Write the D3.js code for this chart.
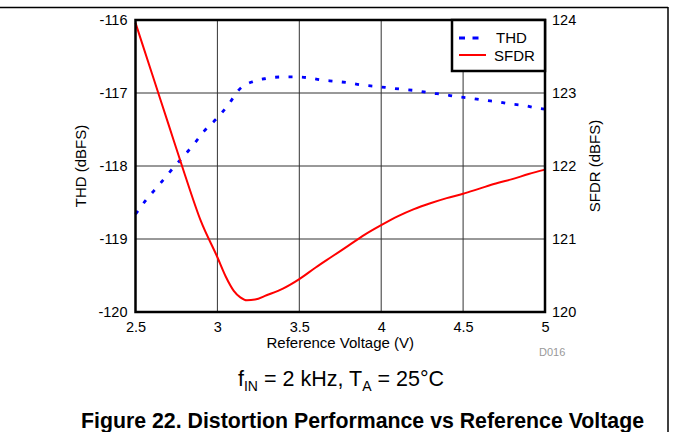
<!DOCTYPE html>
<html><head><meta charset="utf-8">
<script src="https://cdn.jsdelivr.net/npm/d3@7"></script>
<style>body{margin:0;background:#fff}svg{display:block;font-family:"Liberation Sans",Arial,sans-serif}</style>
</head><body>
<svg id="c" width="673" height="432"></svg>
<script>
const xTicks = [2.5, 3, 3.5, 4, 4.5, 5];
const yLeftTicks = [-120, -119, -118, -117, -116];
const yRightTicks = [120, 121, 122, 123, 124];
const thdV = [2.5,2.57,2.64,2.71,2.78,2.85,2.92,3.0,3.07,3.13,3.22,3.30,3.39,3.47,3.55,3.63,3.72,3.80,3.88,3.97,4.05,4.13,4.22,4.30,4.38,4.46,4.54,4.63,4.71,4.79,4.87,4.96,5.0];
const thdVal = [-118.66,-118.45,-118.27,-118.08,-117.90,-117.72,-117.52,-117.34,-117.15,-116.96,-116.84,-116.80,-116.78,-116.78,-116.79,-116.82,-116.84,-116.86,-116.89,-116.91,-116.93,-116.95,-116.97,-117.00,-117.02,-117.05,-117.07,-117.10,-117.12,-117.15,-117.17,-117.21,-117.22];
const sfdrV = [2.5,2.6,2.7,2.8,2.9,3.0,3.05,3.1,3.14,3.18,3.23,3.3,3.4,3.5,3.6,3.7,3.8,3.9,4.0,4.1,4.2,4.3,4.4,4.5,4.6,4.7,4.8,4.9,5.0];
const sfdrVal = [123.96,123.27,122.58,121.89,121.24,120.75,120.49,120.29,120.20,120.16,120.17,120.23,120.32,120.45,120.61,120.76,120.91,121.06,121.19,121.31,121.41,121.49,121.56,121.62,121.69,121.76,121.82,121.89,121.95];

const svg = d3.select("#c");
const L = 135.5, R = 545, T = 20, B = 312;
const x = d3.scaleLinear().domain([2.5, 5]).range([L, R]);
const yL = d3.scaleLinear().domain([-120, -116]).range([B, T]);
const yR = d3.scaleLinear().domain([120, 124]).range([B, T]);

// page frame
svg.append("line").attr("x1",0).attr("x2",668).attr("y1",7.5).attr("y2",7.5).attr("stroke","#000").attr("stroke-width",1.5);
svg.append("line").attr("x1",668).attr("x2",668).attr("y1",7).attr("y2",432).attr("stroke","#000").attr("stroke-width",1.5);

// grid
const g = svg.append("g");
g.selectAll("line.vx").data(xTicks.slice(1,-1)).enter().append("line")
 .attr("x1",d=>x(d)).attr("x2",d=>x(d)).attr("y1",T).attr("y2",B).attr("stroke","#333").attr("stroke-width",1);
g.selectAll("line.hy").data(yLeftTicks.slice(1,-1)).enter().append("line")
 .attr("x1",L).attr("x2",R).attr("y1",d=>yL(d)).attr("y2",d=>yL(d)).attr("stroke","#333").attr("stroke-width",1);

// axes (labels)
const axB = d3.axisBottom(x).tickValues(xTicks).tickSize(0).tickPadding(10).tickFormat(d3.format("~g"));
const axL = d3.axisLeft(yL).tickValues(yLeftTicks).tickSize(0).tickPadding(8).tickFormat(d=>String(d));
const axR = d3.axisRight(yR).tickValues(yRightTicks).tickSize(0).tickPadding(7).tickFormat(d=>String(d));
[[axB,`translate(0,${B})`],[axL,`translate(${L},0)`],[axR,`translate(${R},0)`]].forEach(([a,t])=>{
  const s = svg.append("g").attr("transform",t).call(a);
  s.select(".domain").remove();
  s.selectAll("text").attr("font-size",14.5).attr("fill","#000").attr("font-family","Liberation Sans, Arial, sans-serif");
});

// curves
const lineT = d3.line().x(d=>x(d[0])).y(d=>yL(d[1])).curve(d3.curveMonotoneX);
const lineS = d3.line().x(d=>x(d[0])).y(d=>yR(d[1])).curve(d3.curveMonotoneX);
svg.append("path").attr("d", lineT(thdV.map((v,i)=>[v,thdVal[i]])))
 .attr("fill","none").attr("stroke","#0000ff").attr("stroke-width",2.8).attr("stroke-dasharray","4,9.4");
svg.append("path").attr("d", lineS(sfdrV.map((v,i)=>[v,sfdrVal[i]])))
 .attr("fill","none").attr("stroke","#ff0000").attr("stroke-width",2);

// plot border
svg.append("rect").attr("x",L).attr("y",T).attr("width",R-L).attr("height",B-T)
 .attr("fill","none").attr("stroke","#000").attr("stroke-width",2.5);

// legend
const lg = svg.append("g");
lg.append("rect").attr("x",452).attr("y",T).attr("width",R-452).attr("height",51).attr("fill","#fff").attr("stroke","#000").attr("stroke-width",2.5);
lg.append("line").attr("x1",459).attr("x2",479).attr("y1",38).attr("y2",38).attr("stroke","#0000ff").attr("stroke-width",2.8).attr("stroke-dasharray","6,7.5");
lg.append("line").attr("x1",459).attr("x2",486).attr("y1",55).attr("y2",55).attr("stroke","#ff0000").attr("stroke-width",2);
lg.append("text").attr("x",496).attr("y",43).attr("font-size",15).text("THD");
lg.append("text").attr("x",494).attr("y",61).attr("font-size",15).text("SFDR");

// axis titles
svg.append("text").attr("transform",`translate(86,166) rotate(-90)`).attr("text-anchor","middle").attr("font-size",15).text("THD (dBFS)");
svg.append("text").attr("transform",`translate(600,166) rotate(-90)`).attr("text-anchor","middle").attr("font-size",15).text("SFDR (dBFS)");
svg.append("text").attr("x",(L+R)/2).attr("y",348).attr("text-anchor","middle").attr("font-size",15).text("Reference Voltage (V)");
svg.append("text").attr("x",539).attr("y",356).attr("font-size",11).attr("fill","#999").text("D016");

// subtitle
const st = svg.append("text").attr("x",341).attr("y",386).attr("text-anchor","middle").attr("font-size",21.5);
st.append("tspan").text("f");
st.append("tspan").attr("font-size",14).attr("dy",5).text("IN");
st.append("tspan").attr("dy",-5).text(" = 2 kHz, T");
st.append("tspan").attr("font-size",14).attr("dy",5).text("A");
st.append("tspan").attr("dy",-5).text(" = 25°C");

svg.append("text").attr("x",362.5).attr("y",428).attr("text-anchor","middle").attr("font-size",21.3).attr("font-weight","bold").text("Figure 22. Distortion Performance vs Reference Voltage");
</script>
</body></html>
